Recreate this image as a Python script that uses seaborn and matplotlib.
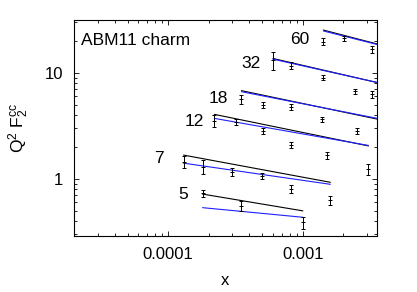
import numpy as np
import pandas as pd
import matplotlib
matplotlib.use("Agg")
import matplotlib.pyplot as plt
import seaborn as sns

# Q^2 values of the bins
q2_labels = ["5", "7", "12", "18", "32", "60"]

# data points (x, Q^2 F2cc, error) per Q^2 bin
x_5 = [1.8e-4, 3.5e-4, 1.0e-3]
y_5 = [0.73, 0.56, 0.39]
e_5 = [0.06, 0.06, 0.05]

x_7 = [1.3e-4, 1.8e-4, 3.0e-4, 5.0e-4, 8.1e-4, 1.6e-3]
y_7 = [1.46, 1.31, 1.17, 1.07, 0.80, 0.63]
e_7 = [0.19, 0.20, 0.11, 0.07, 0.07, 0.06]

x_12 = [2.2e-4, 3.2e-4, 5.1e-4, 8.1e-4, 1.52e-3, 3.07e-3]
y_12 = [3.55, 3.45, 2.85, 2.09, 1.68, 1.23]
e_12 = [0.45, 0.25, 0.20, 0.13, 0.13, 0.14]

x_18 = [3.5e-4, 5.1e-4, 8.1e-4, 1.38e-3, 2.54e-3]
y_18 = [5.7, 5.0, 4.8, 3.66, 2.85]
e_18 = [0.55, 0.35, 0.30, 0.20, 0.17]

x_32 = [6.0e-4, 8.1e-4, 1.42e-3, 2.44e-3, 3.26e-3]
y_32 = [13.3, 11.7, 9.0, 6.7, 6.3]
e_32 = [2.6, 0.9, 0.5, 0.4, 0.5]

x_60 = [1.42e-3, 2.03e-3, 3.26e-3]
y_60 = [19.8, 21.2, 16.7]
e_60 = [1.5, 1.0, 1.2]

# theory curves (start / end of x range, black and blue predictions)
th_x0 = [1.8e-4, 1.3e-4, 2.2e-4, 3.5e-4, 6.0e-4, 1.42e-3]
th_x1 = [1.0e-3, 1.6e-3, 3.07e-3, 3.6e-3, 3.6e-3, 3.6e-3]
black_y0 = [0.72, 1.68, 4.07, 6.81, 13.7, 25.4]
black_y1 = [0.50, 0.93, 2.05, 3.66, 8.1, 18.7]
blue_y0 = [0.536, 1.41, 3.73, 6.66, 13.5, 24.9]
blue_y1 = [0.435, 0.89, 2.07, 3.72, 8.1, 18.5]

# label positions (x, y) for the Q^2 numbers
lab_x = [1.29e-4, 8.6e-5, 1.56e-4, 2.37e-4, 4.1e-4, 9.5e-4]
lab_y = [0.72, 1.57, 3.47, 5.77, 12.3, 20.5]

sns.set_style("ticks")
plt.rcParams['font.family'] = ['Liberation Sans', 'DejaVu Sans']
plt.rcParams['mathtext.fontset'] = 'custom'
plt.rcParams['mathtext.rm'] = 'Liberation Sans'
plt.rcParams['mathtext.it'] = 'Liberation Sans'
plt.rcParams['text.color'] = 'black'
plt.rcParams['axes.labelcolor'] = 'black'
plt.rcParams['axes.edgecolor'] = 'black'
plt.rcParams['xtick.color'] = 'black'
plt.rcParams['ytick.color'] = 'black'

fig = plt.figure(figsize=(4.17, 2.92), dpi=100)
ax = fig.add_axes([0.1775, 0.192, 0.7265, 0.7395])

for i in range(len(q2_labels)):
    d = pd.DataFrame({"x": [th_x0[i], th_x1[i]],
                      "black": [black_y0[i], black_y1[i]],
                      "blue": [blue_y0[i], blue_y1[i]]})
    sns.lineplot(data=d, x="x", y="black", color="black", lw=0.8, ax=ax)
    sns.lineplot(data=d, x="x", y="blue", color="#2020ff", lw=0.8, ax=ax)

points = [(x_5, y_5, e_5), (x_7, y_7, e_7), (x_12, y_12, e_12),
          (x_18, y_18, e_18), (x_32, y_32, e_32), (x_60, y_60, e_60)]
for xs, ys, es in points:
    ax.errorbar(xs, ys, yerr=es, fmt='+', color='black', ms=3, mew=0.7,
                elinewidth=0.7, capsize=1.5, capthick=0.7)

for lab, lx, ly in zip(q2_labels, lab_x, lab_y):
    ax.text(lx, ly, lab, fontsize=12.5, ha='center', va='center')

ax.text(0.023, 0.905, "ABM11 charm", transform=ax.transAxes, fontsize=12.5,
        ha='left', va='center')

ax.set_xscale('log')
ax.set_yscale('log')
ax.set_xlim(2e-5, 3.55e-3)
ax.set_ylim(0.29, 31.6)
ax.set_xticks([1e-4, 1e-3])
ax.set_xticklabels(["0.0001", "0.001"])
ax.set_yticks([1, 10])
ax.set_yticklabels(["1", "10"])
ax.tick_params(which='both', direction='in', top=True, right=True,
               labelsize=12, width=0.6)
ax.tick_params(which='major', length=3.5, pad=8)
ax.tick_params(which='minor', length=2)
for s in ax.spines.values():
    s.set_linewidth(0.8)

ax.set_xlabel("x", fontsize=12, labelpad=8)
ax.set_ylabel(r"$\mathrm{Q^2\ F_2^{cc}}$", fontsize=12.5, labelpad=10)

fig.savefig("out.png", dpi=100)
